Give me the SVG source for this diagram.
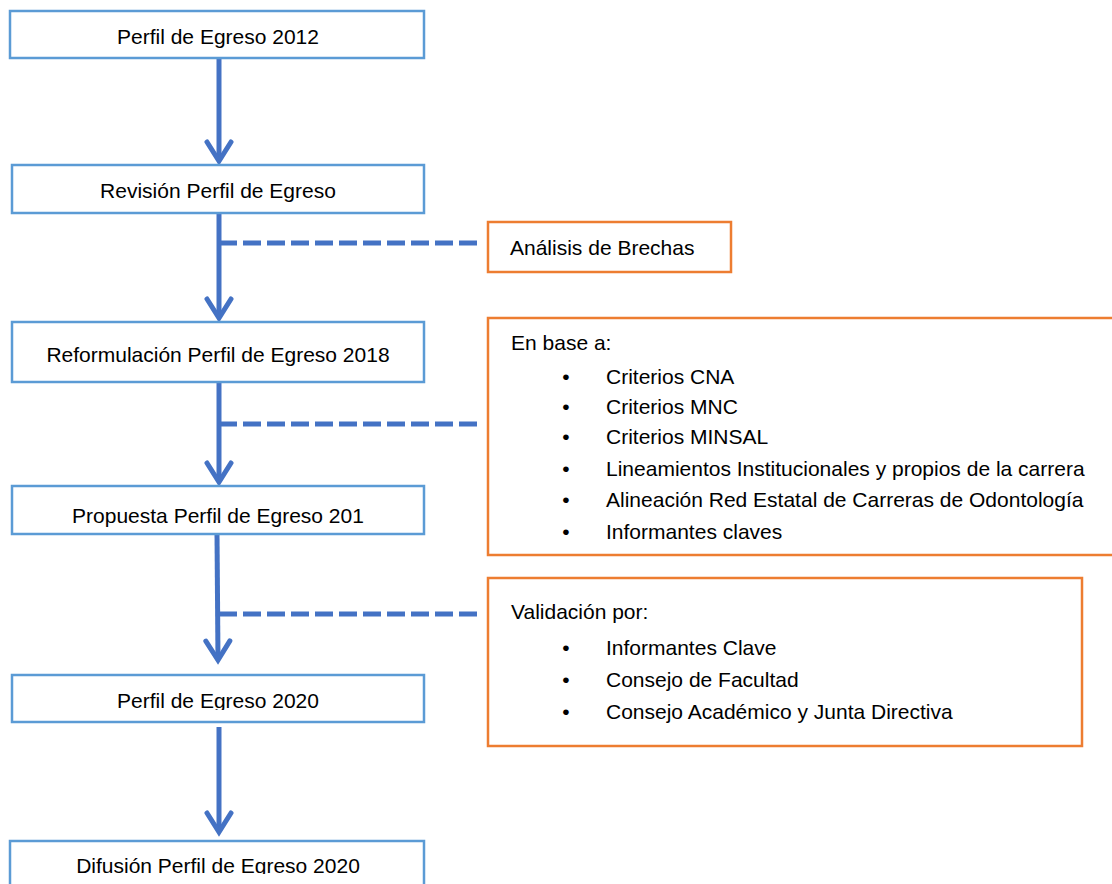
<svg xmlns="http://www.w3.org/2000/svg" width="1112" height="884" viewBox="0 0 1112 884">
<style>
.bx{fill:#fff;stroke:#5B9BD5;stroke-width:2.5}
.ob{fill:#fff;stroke:#ED7D31;stroke-width:2.5}
.t{font-family:"Liberation Sans",Arial,sans-serif;font-size:21px;fill:#000}
.c{text-anchor:middle}
.ar{fill:none;stroke:#4472C4;stroke-width:5;marker-end:url(#ah)}
.ds{fill:none;stroke:#4472C4;stroke-width:5;stroke-dasharray:18 6}
</style>
<defs>
<marker id="ah" markerUnits="userSpaceOnUse" markerWidth="30" markerHeight="30" refX="0" refY="0" orient="auto" overflow="visible">
<path d="M-19,-12 L0,0 L-19,12" fill="none" stroke="#4472C4" stroke-width="5" stroke-linecap="round" stroke-linejoin="miter"/>
</marker>
<clipPath id="cp5"><rect x="0" y="0" width="1112" height="710"/></clipPath>
<clipPath id="cp6"><rect x="0" y="0" width="1112" height="874"/></clipPath>
</defs>
<g id="connectors">
<path class="ar" d="M219,58 L219,161"/>
<path class="ar" d="M219,213 L219,318"/>
<path class="ar" d="M219,382 L219,482"/>
<path class="ar" d="M217,534 L218,660"/>
<path class="ar" d="M219,727 L219,832"/>
<path class="ds" d="M219,243 L481,243"/>
<path class="ds" d="M219,424 L481,424"/>
<path class="ds" d="M219,614 L481,614"/>
</g>
<g id="n1"><rect class="bx" x="10" y="11" width="414" height="47"/><text class="t c" x="218" y="44">Perfil de Egreso 2012</text></g>
<g id="n2"><rect class="bx" x="12" y="165" width="412" height="48"/><text class="t c" x="218" y="198">Revisión Perfil de Egreso</text></g>
<g id="n3"><rect class="bx" x="12" y="322" width="412" height="60"/><text class="t c" x="218" y="362">Reformulación Perfil de Egreso 2018</text></g>
<g id="n4"><rect class="bx" x="12" y="486" width="412" height="48"/><text class="t c" x="218" y="523">Propuesta Perfil de Egreso 201</text></g>
<g id="n5"><rect class="bx" x="12" y="675" width="412" height="47"/><text class="t c" x="218" y="708" clip-path="url(#cp5)">Perfil de Egreso 2020</text></g>
<g id="n6"><rect class="bx" x="10" y="841" width="414" height="60"/><text class="t c" x="218" y="873" clip-path="url(#cp6)">Difusión Perfil de Egreso 2020</text></g>
<g id="a1"><rect class="ob" x="488" y="222" width="243" height="50"/><text class="t" x="510" y="255">Análisis de Brechas</text></g>
<g id="a2"><rect class="ob" x="488" y="318" width="630" height="237"/>
<text class="t" x="511" y="350">En base a:</text>
<text class="t c" x="566" y="384">•</text><text class="t" x="606" y="384">Criterios CNA</text>
<text class="t c" x="566" y="414">•</text><text class="t" x="606" y="414">Criterios MNC</text>
<text class="t c" x="566" y="444">•</text><text class="t" x="606" y="444">Criterios MINSAL</text>
<text class="t c" x="566" y="476">•</text><text class="t" x="606" y="476">Lineamientos Institucionales y propios de la carrera</text>
<text class="t c" x="566" y="507">•</text><text class="t" x="606" y="507">Alineación Red Estatal de Carreras de Odontología</text>
<text class="t c" x="566" y="539">•</text><text class="t" x="606" y="539">Informantes claves</text>
</g>
<g id="a3"><rect class="ob" x="488" y="578" width="594" height="168"/>
<text class="t" x="511" y="619">Validación por:</text>
<text class="t c" x="566" y="655">•</text><text class="t" x="606" y="655">Informantes Clave</text>
<text class="t c" x="566" y="687">•</text><text class="t" x="606" y="687">Consejo de Facultad</text>
<text class="t c" x="566" y="719">•</text><text class="t" x="606" y="719">Consejo Académico y Junta Directiva</text>
</g>
</svg>
